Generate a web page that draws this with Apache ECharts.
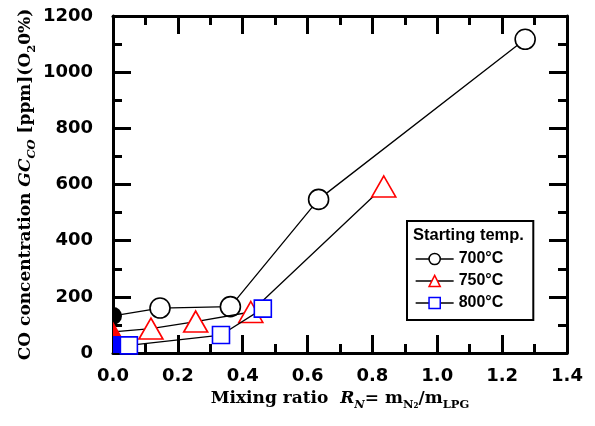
<!DOCTYPE html>
<html>
<head>
<meta charset="utf-8">
<script src="https://cdn.jsdelivr.net/npm/echarts@6/dist/echarts.min.js"></script>
<style>
html,body{margin:0;padding:0;background:#fff;}
#chart{width:595px;height:426px;}
</style>
</head>
<body>
<div id="chart"></div>
<script>
// ---- data ----
var seriesNames = ['700°C', '750°C', '800°C'];
var data700 = [[0.0, 132], [0.145, 160], [0.362, 165], [0.634, 547], [1.271, 1117]];
var data750 = [[0.0, 75], [0.117, 87], [0.255, 112], [0.425, 146], [0.835, 593]];
var data800 = [[0.0, 30], [0.049, 27], [0.333, 64], [0.462, 158]];
var xTicks = [0.0, 0.2, 0.4, 0.6, 0.8, 1.0, 1.2, 1.4];
var yTicks = [0, 200, 400, 600, 800, 1000, 1200];
var legendTitle = 'Starting temp.';

var colors = ['#000000', '#ff0000', '#0000ff'];
var symbols = ['circle', 'triangle', 'rect'];
var symbolSizes = [20, [24, 21], 17];
// right-half shapes (left half hidden behind the axis in the original);
// a zero-area segment on the left keeps the symbol box centred on the point
var halfShapes = [
  {path: 'path://M-10,10 L-10,10.01 Z M0,0 L3.83,0.76 L7.07,2.93 L9.24,6.17 L10,10 L9.24,13.83 L7.07,17.07 L3.83,19.24 L0,20 Z', size: [18, 18]},
  {path: 'path://M-12,10 L-12,10.01 Z M0,0 L12,21 L0,21 Z', size: [24, 21]},
  {path: 'path://M-10,10 L-10,10.01 Z M0,0 L10,0 L10,20 L0,20 Z', size: [17, 17]}
];
var allData = [data700, data750, data800];

var serif = 'DejaVu Serif';
var sans = 'DejaVu Sans';

function buildSeries(i) {
  var d = allData[i].map(function (p, k) {
    if (k === 0) {
      var h = halfShapes[i];
      return {
        value: p,
        symbol: h.path,
        symbolSize: h.size,
        symbolKeepAspect: false,
        itemStyle: {color: colors[i], borderWidth: 0}
      };
    }
    return {value: p};
  });
  return {
    name: seriesNames[i],
    type: 'line',
    data: d,
    symbol: symbols[i],
    symbolSize: symbolSizes[i],
    showAllSymbol: true,
    clip: false,
    lineStyle: {color: '#000', width: 1.3},
    itemStyle: {color: '#fff', borderColor: colors[i], borderWidth: 1.6},
    emphasis: {disabled: true},
    animation: false,
    z: 3 + i
  };
}

var tickLabelStyle = {fontFamily: sans, fontWeight: 'bold', fontSize: 18, color: '#000'};
var axisLine = {show: true, onZero: false, lineStyle: {color: '#000', width: 3}};
var axisTick = {show: true, inside: true, length: 18, lineStyle: {color: '#000', width: 3}};
var minorTick = {show: true, splitNumber: 2, length: 9, lineStyle: {color: '#000', width: 3}};

var subRich = {
  i: {fontFamily: serif, fontWeight: 'bold', fontStyle: 'italic', fontSize: 17, lineHeight: 24, color: '#000'},
  isub: {fontFamily: serif, fontWeight: 'bold', fontStyle: 'italic', fontSize: 11.5, lineHeight: 14, verticalAlign: 'bottom', color: '#000'},
  sub: {fontFamily: serif, fontWeight: 'bold', fontSize: 11.5, lineHeight: 14, verticalAlign: 'bottom', color: '#000'}
};

var chart = echarts.init(document.getElementById('chart'), null, {renderer: 'canvas'});
chart.setOption({
  animation: false,
  backgroundColor: '#fff',
  grid: {left: 113, right: 28, top: 16, bottom: 73, containLabel: false, outerBoundsMode: 'none'},
  title: {
    text: legendTitle,
    left: 413, top: 227, padding: 0,
    textStyle: {fontFamily: 'Liberation Sans', fontWeight: 'bold', fontSize: 16.5, color: '#000'}
  },
  legend: {
    data: seriesNames.map(function (n, i) {
      return {name: n, itemStyle: {color: '#fff', borderColor: colors[i], borderWidth: 1.5}, lineStyle: {color: '#000', width: 1.3}};
    }),
    orient: 'vertical',
    left: 407, top: 221,
    padding: [30, 30, 9, 8],
    itemGap: 6,
    itemWidth: 38,
    itemHeight: 14,
    backgroundColor: '#fff',
    borderColor: '#000',
    borderWidth: 2,
    textStyle: {fontFamily: 'Liberation Sans', fontWeight: 'bold', fontSize: 16, color: '#000'},
    selectedMode: false
  },
  xAxis: [{
    type: 'value', min: 0, max: 1.4, interval: 0.2, position: 'bottom',
    axisLine: axisLine, axisTick: axisTick, minorTick: minorTick,
    splitLine: {show: false},
    axisLabel: Object.assign({margin: 14, formatter: function (v) { return v.toFixed(1); },
      customValues: xTicks}, tickLabelStyle),
    name: 'Mixing ratio  {i|R}{isub|N}= m{sub|N₂}/m{sub|LPG}',
    nameLocation: 'middle', nameGap: 34, nameMoveOverlap: false,
    nameTextStyle: {fontFamily: serif, fontWeight: 'bold', fontSize: 17, lineHeight: 24, color: '#000', rich: subRich}
  }, {
    type: 'value', min: 0, max: 1.4, interval: 0.2, position: 'top',
    axisLine: axisLine, axisTick: axisTick, minorTick: minorTick,
    splitLine: {show: false}, axisLabel: {show: false}
  }],
  yAxis: [{
    type: 'value', min: 0, max: 1200, interval: 200, position: 'left',
    axisLine: axisLine, axisTick: axisTick, minorTick: minorTick,
    splitLine: {show: false},
    axisLabel: Object.assign({margin: 20, formatter: function (v) { return String(v); },
      customValues: yTicks}, tickLabelStyle),
    name: 'CO concentration {i|GC}{isub|CO} [ppm](O{sub|2}0%)',
    nameLocation: 'middle', nameGap: 75, nameRotate: 90, nameMoveOverlap: false,
    nameTextStyle: {fontFamily: serif, fontWeight: 'bold', fontSize: 17, lineHeight: 24, color: '#000', rich: subRich}
  }, {
    type: 'value', min: 0, max: 1200, interval: 200, position: 'right',
    axisLine: axisLine, axisTick: axisTick, minorTick: minorTick,
    splitLine: {show: false}, axisLabel: {show: false}
  }],
  series: [buildSeries(0), buildSeries(1), buildSeries(2)]
});
</script>
</body>
</html>
